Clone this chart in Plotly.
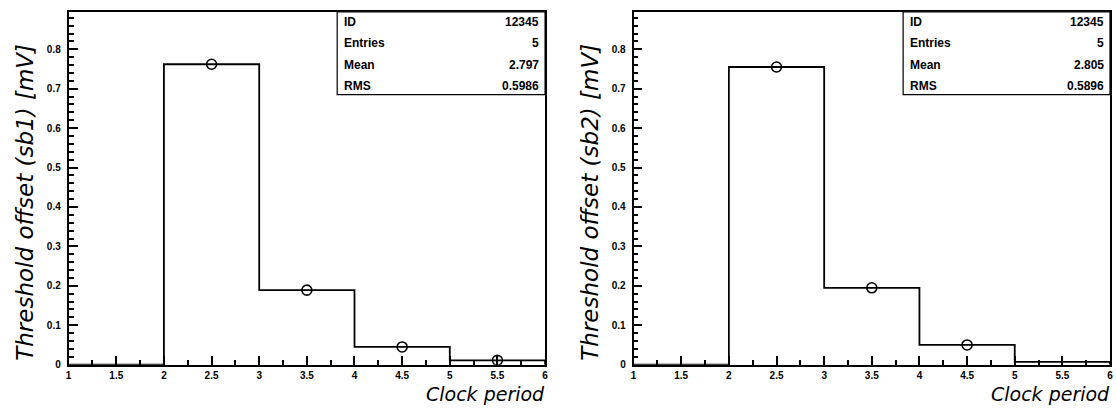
import plotly.graph_objects as go

# Bin edges shared by both histograms (clock period)
bin_edges = [1, 2, 3, 4, 5, 6]

# Threshold offsets per bin, sub-board 1 and 2 [mV]
sb1_values = [0.0, 0.762, 0.189, 0.045, 0.011]
sb2_values = [0.0, 0.755, 0.195, 0.050, 0.007]

# Points drawn as open circles at bin centres
sb1_point_x = [2.5, 3.5, 4.5, 5.5]
sb1_point_y = [0.762, 0.189, 0.045, 0.011]
sb1_point_err = [0.0, 0.0, 0.0, 0.012]
sb2_point_x = [2.5, 3.5, 4.5]
sb2_point_y = [0.755, 0.195, 0.050]

# Statistics box contents
stat_names = ["ID", "Entries", "Mean", "RMS"]
sb1_stats = ["12345", "5", "2.797", "0.5986"]
sb2_stats = ["12345", "5", "2.805", "0.5896"]

y_titles = ["Threshold offset (sb1) [mV]", "Threshold offset (sb2) [mV]"]
x_title = "Clock period"

W, H = 1116, 416
# frame geometry in pixels: (left, right), shared top/bottom
frames = [(66, 545), (634, 1113)]
top_px, bottom_px = 12, 370
y_max = 0.895

fig = go.Figure()


def px(x):
    return x / W


def py(y):
    return (H - y) / H


def step_xy(edges, values):
    xs = list(edges) + [edges[-1]]
    ys = list(values) + [values[-1], 0.0]
    return xs, ys


panels = [
    (sb1_values, sb1_point_x, sb1_point_y, sb1_point_err, sb1_stats),
    (sb2_values, sb2_point_x, sb2_point_y, None, sb2_stats),
]

for i, (vals, pxs, pys, perr, stats) in enumerate(panels):
    xa = "x" if i == 0 else "x2"
    ya = "y" if i == 0 else "y2"
    sx, sy = step_xy(bin_edges, vals)
    fig.add_trace(go.Scatter(
        x=sx, y=sy, mode="lines", line=dict(color="black", width=1.8, shape="hv"),
        xaxis=xa, yaxis=ya, showlegend=False, hoverinfo="skip"))
    marker_kw = dict(
        x=pxs, y=pys, mode="markers",
        marker=dict(symbol="circle-open", size=10, color="black", line=dict(width=1.6)),
        xaxis=xa, yaxis=ya, showlegend=False)
    if perr is not None:
        marker_kw["error_y"] = dict(type="data", array=perr, visible=True,
                                    color="black", thickness=1.4, width=0)
    fig.add_trace(go.Scatter(**marker_kw))

tick_font = dict(family="Liberation Sans", size=10, color="black", weight="bold")

for i, (l, r) in enumerate(frames):
    sfx = "" if i == 0 else "2"
    fig.update_layout(**{
        f"xaxis{sfx}": dict(
            domain=[px(l), px(r)], range=[1, 6], dtick=0.5, tick0=1,
            anchor=f"y{sfx}", showline=True, linecolor="black", linewidth=1.8,
            mirror=True, zeroline=False,
            ticks="inside", ticklen=9, tickwidth=1.8, tickcolor="black",
            tickfont=tick_font,
            minor=dict(ticks="inside", ticklen=5, dtick=0.25, tickcolor="black",
                       tickwidth=1.5)),
        f"yaxis{sfx}": dict(
            domain=[py(bottom_px), py(top_px)], range=[0, y_max], dtick=0.1, tick0=0,
            anchor=f"x{sfx}", showline=True, linecolor="black", linewidth=1.8,
            mirror=True, zeroline=False,
            ticks="inside", ticklen=9, tickwidth=1.8, tickcolor="black",
            tickfont=tick_font, ticklabelstandoff=4,
            minor=dict(ticks="inside", ticklen=5, dtick=0.02, tickcolor="black",
                       tickwidth=1.5)),
    })

shapes = []
annotations = []
stat_font = dict(family="Liberation Sans", size=12, color="black", weight="bold")
title_font = dict(family="DejaVu Sans", size=19, color="black", style="italic")
ytitle_font = dict(family="DejaVu Sans", size=23, color="black", style="italic")
row_y = [22, 44, 66, 87]
box_left = [336, 905]

for i, (l, r) in enumerate(frames):
    stats = panels[i][4]
    bl = box_left[i]
    shapes.append(dict(type="rect", xref="paper", yref="paper",
                       x0=px(bl), x1=px(r), y0=py(96), y1=py(top_px),
                       line=dict(color="black", width=1.2), fillcolor="white", layer="above"))
    for name, val, ry in zip(stat_names, stats, row_y):
        annotations.append(dict(xref="paper", yref="paper", x=px(bl + 5), y=py(ry),
                                text=name, showarrow=False, xanchor="left",
                                yanchor="middle", font=stat_font))
        annotations.append(dict(xref="paper", yref="paper", x=px(r - 4), y=py(ry),
                                text=val, showarrow=False, xanchor="right",
                                yanchor="middle", font=stat_font))
    # axis titles
    annotations.append(dict(xref="paper", yref="paper", x=px(r + 2), y=py(400),
                            text=x_title, showarrow=False, xanchor="right",
                            yanchor="middle", font=title_font))
    annotations.append(dict(xref="paper", yref="paper", x=px(l - 44), y=py(42),
                            text=y_titles[i], showarrow=False, textangle=-90,
                            xanchor="center", yanchor="top", font=ytitle_font))

fig.update_layout(
    width=W, height=H, margin=dict(l=0, r=0, t=0, b=0),
    paper_bgcolor="white", plot_bgcolor="white",
    shapes=shapes, annotations=annotations, showlegend=False,
)

fig.write_html("out.html")
